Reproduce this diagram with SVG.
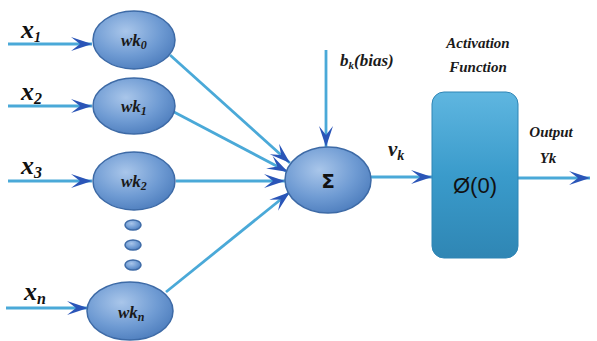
<svg xmlns="http://www.w3.org/2000/svg" width="597" height="341" viewBox="0 0 597 341">
<defs>
<radialGradient id="eg" cx="0.4" cy="0.35" r="0.7">
<stop offset="0" stop-color="#a9c6ea"/>
<stop offset="0.6" stop-color="#6f9bd3"/>
<stop offset="1" stop-color="#4d7dbd"/>
</radialGradient>
<linearGradient id="bg" x1="0" y1="0" x2="0" y2="1">
<stop offset="0" stop-color="#5fb6e0"/>
<stop offset="0.5" stop-color="#3a9bcb"/>
<stop offset="1" stop-color="#2f86b4"/>
</linearGradient>
<marker id="ah" viewBox="0 0 22 16" refX="21" refY="8" markerWidth="22" markerHeight="16" markerUnits="userSpaceOnUse" orient="auto">
<path d="M0,1 L21,8 L0,15 L9,8 Z" fill="#2a55b8"/>
</marker>
</defs>
<style>
.nd{fill:url(#eg);stroke:#3d6aa6;stroke-width:1.5}
.cn{stroke:#4aa9d8;stroke-width:2.8;fill:none;marker-end:url(#ah)}
</style>
<g id="connectors">
<line class="cn" x1="8" y1="44" x2="92" y2="44"/>
<line class="cn" x1="8" y1="106" x2="92" y2="106"/>
<line class="cn" x1="8" y1="181" x2="92" y2="181"/>
<line class="cn" x1="6" y1="308" x2="88" y2="308"/>
<line class="cn" x1="170" y1="55" x2="290" y2="163"/>
<line class="cn" x1="174" y1="112" x2="288" y2="172"/>
<line class="cn" x1="176" y1="181" x2="285" y2="181"/>
<line class="cn" x1="166" y1="292" x2="290" y2="192"/>
<line class="cn" x1="326" y1="50" x2="326" y2="147"/>
<line class="cn" x1="371" y1="177" x2="432" y2="177"/>
<line class="cn" x1="518" y1="178" x2="590" y2="178"/>
</g>
<g id="x-labels" font-family="'Liberation Serif','DejaVu Serif',serif" font-style="italic" font-weight="bold" font-size="26" fill="#111">
<text x="21" y="38">x<tspan font-size="14" dy="4">1</tspan></text>
<text x="21" y="100">x<tspan font-size="16" dy="4">2</tspan></text>
<text x="21" y="174">x<tspan font-size="16" dy="4">3</tspan></text>
<text x="24" y="300">x<tspan font-size="16" dy="4">n</tspan></text>
</g>
<g font-family="'Liberation Serif','DejaVu Serif',serif" font-style="italic" font-weight="bold" font-size="17" fill="#1a1a1a">
<g id="wk0"><ellipse class="nd" cx="134" cy="40" rx="41" ry="29"/><text x="121" y="46">wk<tspan font-size="12" dy="3">0</tspan></text></g>
<g id="wk1"><ellipse class="nd" cx="134" cy="106" rx="41" ry="28"/><text x="121" y="112">wk<tspan font-size="12" dy="3">1</tspan></text></g>
<g id="wk2"><ellipse class="nd" cx="134" cy="181" rx="41" ry="29"/><text x="121" y="187">wk<tspan font-size="12" dy="3">2</tspan></text></g>
<g id="dots">
<ellipse class="nd" cx="133" cy="225" rx="8" ry="5" stroke-width="0.8"/>
<ellipse class="nd" cx="133" cy="245" rx="8" ry="5" stroke-width="0.8"/>
<ellipse class="nd" cx="133" cy="265" rx="8" ry="5" stroke-width="0.8"/>
</g>
<g id="wkn"><ellipse class="nd" cx="130" cy="311" rx="43" ry="29"/><text x="118" y="318">wk<tspan font-size="12" dy="3">n</tspan></text></g>
<g id="sum"><ellipse class="nd" cx="328" cy="180" rx="43" ry="33"/><text x="328" y="188" text-anchor="middle" font-family="'DejaVu Sans',sans-serif" font-style="normal" font-weight="bold" font-size="20" fill="#111">Σ</text></g>
<g id="bias-label"><text x="340" y="66">b<tspan font-size="11" dy="3">k</tspan><tspan dy="-3">(bias)</tspan></text></g>
<g id="vk-label"><text x="388" y="156" font-size="21">v<tspan font-size="14" dy="4">k</tspan></text></g>
<g id="activation">
<rect x="432" y="92" width="86" height="166" rx="12" fill="url(#bg)" stroke="#2f85b5" stroke-width="1"/>
<text x="475" y="193" text-anchor="middle" font-family="'Liberation Sans',sans-serif" font-style="normal" font-weight="normal" font-size="22" fill="#111">Ø(0)</text>
<text x="478" y="48" text-anchor="middle" font-size="15">Activation</text>
<text x="478" y="72" text-anchor="middle" font-size="15">Function</text>
</g>
<g id="output-label">
<text x="551" y="137" text-anchor="middle" font-size="15">Output</text>
<text x="548" y="163" text-anchor="middle" font-size="15">Yk</text>
</g>
</g>
</svg>
